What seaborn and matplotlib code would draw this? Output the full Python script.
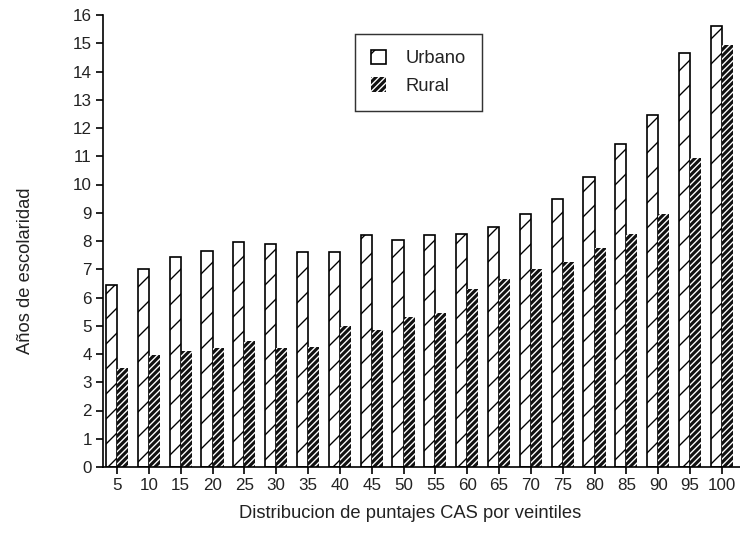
import pandas as pd
import matplotlib
matplotlib.use("Agg")
import matplotlib.pyplot as plt
import seaborn as sns

# Data
veintiles = [5, 10, 15, 20, 25, 30, 35, 40, 45, 50, 55, 60, 65, 70, 75, 80, 85, 90, 95, 100]
urbano = [6.45, 7.0, 7.45, 7.65, 7.95, 7.9, 7.6, 7.6, 8.2, 8.05,
          8.2, 8.25, 8.5, 8.95, 9.5, 10.25, 11.45, 12.45, 14.65, 15.6]
rural = [3.5, 3.95, 4.1, 4.2, 4.45, 4.2, 4.25, 5.0, 4.85, 5.3,
         5.45, 6.3, 6.65, 7.0, 7.25, 7.75, 8.25, 8.95, 10.95, 14.95]
series = ["Urbano", "Rural"]

df = pd.DataFrame({
    "veintil": [str(v) for v in veintiles] * 2,
    "anios": urbano + rural,
    "zona": ["Urbano"] * len(veintiles) + ["Rural"] * len(veintiles),
})

sns.set_theme(style="ticks")
plt.rcParams["font.family"] = ["Liberation Sans", "DejaVu Sans"]
plt.rcParams["hatch.linewidth"] = 0.65

fig = plt.figure(figsize=(740 / 150, 546 / 150), dpi=150)
ax = fig.add_axes([103 / 740, 1 - 467 / 546, 637 / 740, (467 - 15) / 546])

sns.barplot(data=df, x="veintil", y="anios", hue="zona", hue_order=series,
            order=[str(v) for v in veintiles], width=0.7, gap=0,
            legend=False, ax=ax)

# Urbano: white with sparse hatch; Rural: black with dense white stripes
for p in ax.containers[0]:
    p.set_facecolor("white")
    p.set_edgecolor("black")
    p.set_linewidth(0.8)
    p.set_hatch("//")
for p in ax.containers[1]:
    p.set_facecolor("#111111")
    p.set_edgecolor("white")
    p.set_linewidth(0)
    p.set_hatch("////////")

ax.set_ylim(0, 16)
ax.set_xlim(-0.44, 19.57)
ax.set_yticks(range(0, 17))
sns.despine(ax=ax)
for side in ["left", "bottom"]:
    ax.spines[side].set_linewidth(0.8)
    ax.spines[side].set_color("black")
ax.tick_params(axis="both", length=3.4, width=0.8, color="black",
               labelsize=8.2, labelcolor="#222222", pad=2)

ax.set_xlabel("Distribucion de puntajes CAS por veintiles", fontsize=8.8, color="#222222")
ax.set_ylabel("Años de escolaridad", fontsize=8.8, color="#222222")
ax.xaxis.set_label_coords(0.482, -0.085)
ax.yaxis.set_label_coords(-0.108, 0.435)

leg = ax.legend(ax.containers, series, loc="upper left",
                bbox_to_anchor=(0.396, 0.958), frameon=True, fancybox=False,
                fontsize=8.8, handlelength=0.85, handleheight=0.85,
                handletextpad=1.05, labelspacing=0.55, borderpad=0.85,
                borderaxespad=0)
leg.get_frame().set_edgecolor("black")
leg.get_frame().set_linewidth(0.7)
for t in leg.get_texts():
    t.set_color("#222222")

fig.savefig("out.png", dpi=150)
